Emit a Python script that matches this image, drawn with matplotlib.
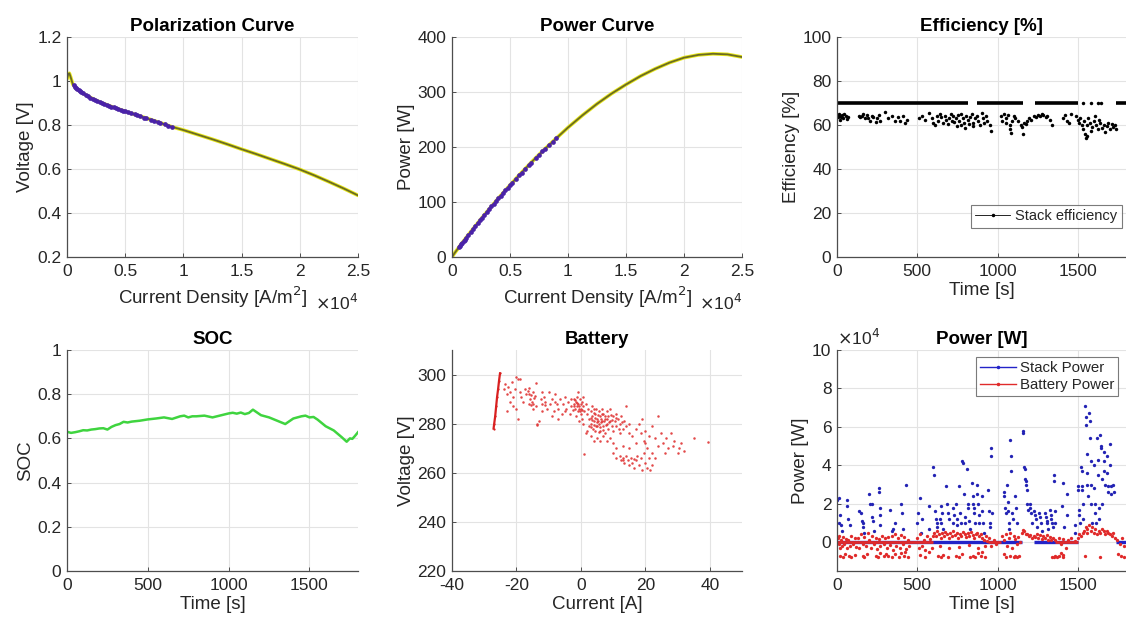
import matplotlib
matplotlib.use("Agg")
import matplotlib.pyplot as plt
from matplotlib.lines import Line2D
import numpy as np

plt.rcParams['font.family'] = ['Liberation Sans', 'DejaVu Sans']

# ---------------- data ----------------
# Polarization / power curves (current density in 1e4 A/m^2)
J_curve = [0, 0.01, 0.02, 0.03, 0.05, 0.075, 0.1, 0.15, 0.2, 0.25, 0.3, 0.4, 0.5, 0.6,
           0.7, 0.8, 0.9, 1.0, 1.125, 1.25, 1.375, 1.5, 1.625, 1.75, 1.875, 2.0, 2.125,
           2.25, 2.375, 2.5]
V_curve = [1.01, 1.03, 1.035, 1.02, 0.985, 0.968, 0.958, 0.94, 0.925, 0.912, 0.9, 0.88, 0.862,
           0.845, 0.828, 0.81, 0.792, 0.777, 0.756, 0.735, 0.713, 0.69, 0.668, 0.645, 0.622,
           0.598, 0.571, 0.542, 0.512, 0.48]
P_curve = [0, 3.1, 6.3, 9.3, 14.9, 22, 29, 42.7, 56, 69, 81.8, 106.7, 130.6, 153.6,
           175.6, 196.3, 216, 235.4, 257.7, 278.4, 297, 313.6, 328.9, 342, 353.4, 362.4,
           367.5, 369.5, 368.4, 363.6]

# Stack operating points
J_op = [0.06, 0.07, 0.08, 0.09, 0.1, 0.11, 0.12, 0.14, 0.16, 0.18, 0.2, 0.22, 0.24, 0.26, 0.28,
        0.3, 0.32, 0.34, 0.36, 0.38, 0.4, 0.42, 0.44, 0.46, 0.48, 0.5, 0.52, 0.55, 0.58,
        0.6, 0.63, 0.66, 0.68, 0.72, 0.75, 0.78, 0.8, 0.84, 0.87, 0.9]
V_op = [0.98, 0.975, 0.97, 0.965, 0.958, 0.954, 0.95, 0.944, 0.937, 0.931, 0.925, 0.92, 0.915,
        0.91, 0.905, 0.9, 0.896, 0.892, 0.888, 0.884, 0.88, 0.876, 0.873, 0.869, 0.865,
        0.862, 0.858, 0.853, 0.848, 0.845, 0.84, 0.833, 0.831, 0.824, 0.818, 0.813, 0.81,
        0.803, 0.797, 0.792]
P_op = [17.8, 20.7, 23.5, 26.3, 29, 31.8, 34.5, 40, 45.4, 50.8, 56, 61.3, 66.5, 71.7, 76.8,
        81.8, 86.9, 91.9, 96.9, 101.8, 106.7, 111.5, 116.3, 121.1, 125.8, 130.6, 135.2,
        142.1, 149, 153.6, 160.3, 166.5, 170.9, 179.9, 186, 192, 196.3, 204.4, 209.9, 216]

# Efficiency (time [s], efficiency [%])
eff_high_segments = [(0, 818), (870, 1160), (1232, 1500), (1740, 1800)]
eff_high_isolated_t = [1531, 1585, 1625, 1647]
eff_high_value = 70
eff_low = [
    (5, 64.5), (8, 63.5), (12, 65), (15, 64), (20, 62.5), (25, 63.8), (30, 64.6), (40, 63),
    (45, 65), (55, 64), (62, 62.8), (70, 63.5),
    (135, 64), (145, 63.5), (155, 64.2), (165, 65), (175, 63), (185, 64.5), (195, 63),
    (205, 62), (215, 64), (225, 63.5), (240, 61.5), (250, 63), (260, 64.5), (268, 62),
    (300, 66), (320, 63), (340, 64), (360, 62), (380, 63.5), (395, 62), (410, 64), (425, 61),
    (435, 62.5),
    (510, 63), (530, 64), (550, 62.5), (570, 65.5), (590, 63), (600, 61), (610, 60),
    (620, 64), (630, 62), (640, 65), (650, 63.5), (660, 61), (670, 64), (680, 62.5),
    (690, 60.5), (700, 63), (710, 65), (715, 62), (725, 64), (730, 61.5), (740, 63),
    (745, 59.5), (755, 64.5), (760, 62), (770, 60), (775, 65), (785, 63), (790, 61),
    (800, 58.5), (805, 64), (815, 62.5), (820, 60.5), (830, 63.5), (840, 65), (845, 61),
    (850, 59.5), (860, 63), (870, 64), (880, 62), (890, 60), (900, 65.5), (910, 63),
    (915, 61), (925, 64), (935, 62), (950, 60), (960, 57.5),
    (1020, 64), (1030, 62), (1040, 65), (1050, 63), (1055, 61), (1065, 64.5), (1075, 60),
    (1080, 58), (1085, 56.5), (1090, 62), (1100, 64), (1110, 63), (1130, 62), (1145, 60),
    (1155, 59), (1160, 56), (1165, 61), (1175, 60.5),
    (1185, 62), (1195, 63), (1210, 62.5), (1225, 64), (1240, 63.5), (1255, 64.5),
    (1265, 64), (1275, 65), (1285, 64.5), (1300, 63.5), (1310, 64), (1325, 62.5), (1340, 60),
    (1405, 63), (1420, 64.5), (1430, 62), (1445, 61), (1460, 65),
    (1490, 64), (1500, 62.5), (1505, 61), (1515, 63), (1525, 60), (1530, 58), (1540, 62),
    (1545, 56), (1550, 54), (1555, 55), (1560, 60), (1565, 63), (1575, 61), (1580, 57.5),
    (1590, 59), (1600, 62), (1605, 64), (1615, 60), (1625, 58), (1630, 62.5), (1640, 61),
    (1650, 58.5), (1660, 60), (1670, 57), (1680, 59.5), (1690, 61), (1700, 58),
    (1710, 60.5), (1720, 59), (1730, 60), (1740, 58)]

# SOC
soc_t = [0, 25, 50, 75, 100, 125, 150, 175, 200, 225, 250, 275, 300, 325, 350, 375, 400, 450,
         500, 550, 600, 650, 700, 725, 750, 775, 800, 850, 900, 950, 1000, 1025, 1050, 1075,
         1100, 1125, 1150, 1200, 1250, 1300, 1350, 1400, 1450, 1475, 1500, 1525, 1550, 1575,
         1600, 1650, 1700, 1730, 1750, 1765, 1780, 1800]
soc_v = [0.63, 0.625, 0.628, 0.632, 0.637, 0.636, 0.64, 0.642, 0.645, 0.646, 0.64, 0.652, 0.66,
         0.665, 0.675, 0.672, 0.676, 0.68, 0.686, 0.69, 0.695, 0.688, 0.70, 0.703, 0.695,
         0.70, 0.70, 0.703, 0.695, 0.704, 0.713, 0.716, 0.712, 0.717, 0.71, 0.715, 0.73,
         0.705, 0.695, 0.68, 0.665, 0.69, 0.70, 0.703, 0.695, 0.697, 0.685, 0.67, 0.655,
         0.636, 0.605, 0.585, 0.60, 0.598, 0.61, 0.628]

# Battery (current [A], voltage [V])
bat_line_I = [-27.1, -26.9, -26.6, -26.3, -26.0, -25.7, -25.4, -25.1]
bat_line_V = [278, 280, 283, 287, 291, 294, 297.5, 300.5]
bat_pts = [
    (-24, 294), (-23.5, 296), (-23, 292), (-22.5, 295), (-22, 293), (-21.5, 297), (-21, 291),
    (-20.5, 294), (-20, 299), (-19.5, 298), (-19, 293), (-22, 289), (-21, 287), (-20, 286),
    (-23, 285), (-19.5, 282), (-18.5, 291), (-18, 289), (-17.5, 294),
    (-17, 292), (-16.5, 293.5), (-16, 292), (-15.8, 290), (-15.5, 291.5), (-15.2, 289),
    (-15, 293), (-14.8, 288), (-14.5, 290.5), (-14, 296.5), (-16, 288), (-15, 286), (-14, 287),
    (-13.5, 279.5), (-13, 281), (-16.2, 294.5), (-15.6, 287.5), (-14.2, 291.2),
    (-12.5, 290), (-12, 288), (-11.5, 291), (-11, 289), (-10.5, 286), (-10, 293), (-9.5, 288),
    (-9, 290), (-8.5, 285), (-8, 292), (-7.5, 288), (-7, 286), (-6.5, 290), (-6, 284),
    (-5.5, 288), (-5, 291), (-4.5, 286), (-4, 289), (-3.5, 284), (-3, 287), (-12, 285),
    (-9, 283), (-7, 282), (-11, 287.5), (-8, 289), (-5, 285), (-3, 290),
    (-2, 290), (-2, 288), (-1.8, 286), (-1.5, 289), (-1.3, 287), (-1, 293), (-1, 285),
    (-0.8, 288), (-0.5, 287), (-0.3, 290), (0, 286), (0, 284), (0.2, 289), (0.3, 282),
    (0.5, 287), (0.8, 291), (1, 285), (-1.5, 283), (-0.5, 281), (0.5, 280), (-2.5, 285.5),
    (1.5, 288), (-1.2, 291), (0.1, 288), (-0.2, 285), (-1.8, 289.5), (-0.6, 286),
    (-2.2, 287), (0.4, 285.5), (-1.1, 288.5),
    (2, 284), (2.5, 282), (3, 285), (3, 280), (3.5, 283), (3.8, 278), (4, 286), (4, 281),
    (4.5, 284), (4.5, 277), (5, 282), (5, 279), (5.5, 285), (5.5, 280), (6, 283), (6, 277),
    (6.5, 281), (6.5, 286), (7, 279), (7, 284), (7.5, 282), (7.5, 276), (8, 285), (8, 280),
    (8.5, 283), (8.5, 278), (9, 281), (9, 286), (9.5, 279), (10, 283), (10, 277),
    (10.5, 281), (11, 284), (11, 279), (11.5, 282), (12, 280), (12, 276), (12.5, 283),
    (13, 278), (13.5, 281), (14, 279), (14, 287), (15, 280), (15, 276), (3, 275), (4, 273),
    (5, 274), (6, 273), (7, 275), (8, 273), (9, 274), (10, 272), (2, 277), (1.5, 276),
    (3.2, 282.5), (4.2, 279.5), (5.2, 283.5), (6.2, 280.5), (7.2, 281), (8.2, 282),
    (9.2, 283.5), (4.8, 286), (5.8, 278.5), (6.8, 277.5), (3.6, 287), (2.6, 279),
    (3.4, 281.5), (4.4, 282.5), (5.4, 281), (6.4, 284), (7.4, 283), (4.1, 284.5),
    (5.1, 280.5), (6.1, 281.8), (3.1, 278.5), (4.6, 279), (5.6, 276.5), (7.8, 279.5),
    (8.8, 280.5), (9.8, 281.5), (10.8, 282.5), (11.8, 278), (12.8, 280.5), (2.3, 286),
    (13, 265), (16.5, 265.5), (18.5, 266), (19.5, 268),
    (10, 268), (11, 266), (12, 267), (12.5, 265), (13, 266), (13.5, 264), (14, 267),
    (14.5, 265), (15, 263), (15.5, 266), (16, 264), (16.5, 262), (17, 265), (17.5, 267),
    (18, 263), (19, 261), (20, 264), (20.5, 262), (21, 266), (21.5, 261), (22, 263), (11, 270),
    (13, 271), (15, 270), (17, 272),
    (16, 275), (17, 278), (18, 280), (18.5, 276), (19, 282), (19.5, 273), (20, 277),
    (20.5, 270), (21, 275), (22, 279), (22, 268), (23, 274), (24, 271), (24, 283), (25, 276),
    (25.5, 272), (26, 268), (26.5, 274), (27, 270), (28, 276), (28.5, 271), (29, 273),
    (30, 268), (30.5, 270), (31, 272), (32, 269), (20, 272), (23, 266),
    (39.5, 272.5), (35, 274), (1, 267.5), (-13.5, 280), (-19, 298), (-12, 293)]

# Power (time [s], power [x1e4 W])
stack_zero_segments = [(0, 1150), (1230, 1500), (1740, 1800)]
stack_pts = [
    (0, 2.2), (10, 2.3), (15, 1.0), (20, 1.4), (25, 0.9), (30, 0.6),
    (60, 2.2), (65, 1.9), (70, 1.2), (80, 0.9),
    (140, 1.6), (150, 1.5), (155, 1.1), (160, 1.0), (165, 0.8), (170, 0.5),
    (200, 2.5), (205, 2.0), (215, 2.0), (220, 1.3), (225, 1.1), (230, 0.6),
    (260, 2.8), (262, 2.6), (265, 1.8), (268, 1.4), (270, 0.9),
    (330, 1.7), (340, 0.6), (350, 0.7), (360, 1.0),
    (400, 2.0), (405, 1.5), (410, 0.7), (430, 3.0),
    (500, 1.0), (505, 1.5), (520, 2.3), (525, 0.5), (530, 1.2),
    (570, 1.9), (575, 0.7),
    (600, 3.9), (602, 3.5), (610, 1.6), (615, 1.2), (620, 1.0), (625, 0.8),
    (640, 1.2), (645, 1.9), (650, 1.0), (655, 1.5), (660, 0.7),
    (680, 2.9), (685, 2.0), (690, 1.5), (695, 1.2),
    (720, 1.8), (725, 1.0), (730, 1.4),
    (740, 2.0), (745, 1.2), (750, 0.9),
    (760, 2.9), (765, 1.5), (770, 1.0),
    (780, 4.2), (785, 4.1), (790, 2.5), (795, 1.3), (800, 1.0),
    (810, 3.8), (815, 2.0), (818, 1.8), (822, 1.1), (826, 0.7),
    (840, 3.1), (845, 2.4), (848, 2.0), (852, 1.8), (856, 1.5), (860, 1.0),
    (870, 3.0), (875, 2.5), (878, 2.0), (882, 1.4), (886, 1.0),
    (900, 2.4), (905, 1.6), (910, 1.0), (915, 0.5),
    (940, 2.7), (945, 1.6), (950, 1.0), (955, 0.8),
    (960, 4.9), (962, 4.5), (966, 1.5),
    (1040, 2.4), (1043, 2.6), (1046, 1.8), (1050, 1.5),
    (1060, 3.0), (1063, 2.1), (1066, 1.6), (1069, 1.0), (1072, 0.7),
    (1080, 5.3), (1083, 4.5), (1086, 3.7), (1090, 1.5), (1095, 1.2),
    (1110, 2.4), (1115, 1.8), (1120, 1.0),
    (1160, 5.8), (1161, 5.7), (1165, 3.9), (1168, 3.8), (1172, 3.3), (1175, 3.2),
    (1180, 3.0), (1183, 2.7), (1186, 2.0), (1190, 1.7),
    (1200, 2.0), (1205, 1.8), (1210, 1.5), (1215, 1.0),
    (1230, 1.6), (1235, 1.4), (1240, 1.2), (1245, 0.8),
    (1260, 1.5), (1265, 1.3), (1270, 1.0), (1275, 0.6),
    (1295, 1.5), (1300, 1.3), (1305, 1.1), (1310, 1.0), (1315, 0.7),
    (1325, 1.7), (1330, 1.4), (1335, 1.2), (1340, 1.0), (1345, 0.8),
    (1350, 3.5), (1353, 3.2), (1356, 1.6), (1360, 1.0),
    (1400, 1.9), (1410, 3.1), (1415, 0.8),
    (1430, 2.5), (1435, 1.4),
    (1480, 0.5), (1485, 0.9),
    (1500, 2.9), (1503, 2.7), (1506, 1.7), (1509, 1.4), (1512, 1.0),
    (1520, 3.9), (1523, 3.7), (1526, 2.9), (1529, 2.7), (1532, 2.0), (1535, 1.2),
    (1545, 7.1), (1548, 6.5), (1551, 6.1), (1554, 4.6), (1557, 3.6), (1560, 3.0), (1563, 2.4),
    (1570, 6.7), (1573, 6.3), (1576, 5.4), (1579, 4.2), (1582, 3.0), (1585, 2.0), (1588, 1.0),
    (1600, 4.0), (1603, 2.8), (1606, 2.0), (1609, 1.5), (1612, 1.0),
    (1620, 5.4), (1623, 4.3), (1626, 3.5), (1629, 1.8), (1632, 1.2),
    (1640, 5.6), (1643, 5.0), (1646, 4.9), (1649, 3.3), (1652, 2.0),
    (1660, 4.7), (1663, 4.2), (1666, 3.7), (1669, 3.0),
    (1680, 4.5), (1683, 3.6), (1686, 2.9), (1689, 2.6),
    (1700, 5.1), (1703, 4.0), (1706, 2.9), (1709, 2.5),
    (1720, 3.0), (1724, 2.6)]
battery_pts = [
    (5, 0.2), (10, -0.1), (15, 0.3), (20, -0.3), (25, 0.1), (30, -0.2), (40, 0.25), (45, -0.1),
    (55, 0.15), (60, -0.3), (70, 0.1), (80, -0.2), (90, 0.3), (100, -0.1), (110, 0.2),
    (120, -0.25),
    (20, -0.7), (35, -0.75), (50, -0.6), (75, -0.7), (90, -0.75), (115, -0.65),
    (130, 0.2), (140, -0.3), (150, 0.4), (160, -0.1), (170, 0.25), (180, -0.2), (190, 0.5),
    (200, 0.1), (210, -0.3), (220, 0.3), (230, -0.1), (240, 0.2), (250, -0.35), (260, 0.15),
    (270, -0.2), (280, 0.3), (290, -0.1), (300, 0.2),
    (160, -0.7), (170, -0.75), (185, -0.6), (240, -0.7), (255, -0.75), (270, -0.55),
    (290, -0.7), (305, -0.6),
    (310, -0.3), (320, 0.25), (330, -0.15), (340, 0.3), (350, -0.4), (360, 0.4), (370, -0.2),
    (380, 0.2), (390, -0.3), (400, 0.35), (410, -0.1), (420, 0.25), (430, -0.35), (440, 0.1),
    (450, -0.2),
    (320, -0.7), (345, -0.75), (360, -0.6), (385, -0.75), (400, -0.55), (415, -0.7),
    (425, -0.5), (440, -0.75),
    (500, 0.2), (510, -0.3), (520, 0.4), (530, -0.2), (540, 0.1), (550, -0.4), (560, 0.3),
    (570, -0.5), (580, 0.15), (590, -0.3), (600, 0.3),
    (520, -0.65), (545, -0.75),
    (605, 0.5), (615, 0.3), (625, 0.6), (635, 0.4), (645, 0.2), (655, 0.5), (665, 0.3),
    (675, 0.55), (685, 0.4), (695, 0.2), (705, 0.5), (715, 0.3), (725, 0.6), (735, 0.35),
    (745, 0.5), (755, 0.2), (765, 0.45), (775, 0.3), (785, 0.55), (795, 0.4), (805, 0.25),
    (815, 0.5), (825, 0.3), (835, 0.55), (845, 0.35), (855, 0.2), (865, 0.45), (875, 0.5),
    (885, 0.3), (895, 0.4), (905, 0.2), (915, 0.1), (925, 0.3), (935, 0.05),
    (640, -0.2), (700, -0.3), (760, -0.25), (820, -0.15), (880, -0.3), (920, -0.2),
    (630, -0.7), (645, -0.75), (660, -0.65), (690, -0.75), (740, -0.7), (760, -0.75),
    (780, -0.6), (830, -0.75), (845, -0.7), (860, -0.75), (880, -0.55), (895, -0.7),
    (905, -0.5), (920, -0.75),
    (945, 0.2), (960, -0.2), (975, 0.1), (990, -0.1),
    (1030, 0.3), (1040, 0.1), (1050, 0.4), (1060, -0.2), (1070, 0.2), (1080, 0.5),
    (1090, -0.3), (1100, 0.3), (1110, 0.15), (1120, -0.1), (1130, 0.25), (1140, 0.0),
    (1040, -0.6), (1055, -0.75), (1075, -0.7), (1100, -0.75), (1110, -0.7), (1120, -0.75),
    (1135, -0.72),
    (1150, 0.5), (1158, 0.65), (1165, 0.6), (1175, 0.45), (1185, 0.4), (1195, 0.3),
    (1205, 0.35), (1215, 0.2), (1225, 0.3), (1235, 0.25), (1245, 0.4), (1255, 0.2),
    (1265, 0.35), (1275, 0.15), (1285, 0.3), (1295, 0.2), (1305, 0.35), (1315, 0.1),
    (1325, 0.25), (1335, 0.1), (1345, 0.2),
    (1360, 0.1), (1380, 0.2), (1395, -0.1), (1410, 0.15), (1425, -0.3), (1440, 0.1),
    (1460, 0.2), (1480, 0.05),
    (1340, -0.75), (1350, -0.75), (1360, -0.72), (1370, -0.75), (1380, -0.7), (1395, -0.55),
    (1405, -0.65), (1410, -0.75),
    (1500, 0.2), (1510, 0.4), (1520, 0.3), (1530, 0.5), (1540, 0.6), (1550, 0.8), (1555, 0.5),
    (1560, 0.7), (1570, 0.9), (1580, 0.6), (1590, 0.8), (1600, 0.5), (1610, 0.7), (1620, 0.4),
    (1630, 0.6), (1640, 0.5), (1650, 0.7), (1660, 0.6), (1670, 0.4), (1680, 0.6), (1690, 0.5),
    (1700, 0.4), (1710, 0.3), (1720, 0.5), (1730, 0.2),
    (1545, -0.7), (1640, -0.75),
    (1745, 0.1), (1760, -0.1), (1775, 0.2), (1790, -0.2), (1750, -0.6), (1770, -0.7),
    (1790, -0.75)]
battery_zero_segments = [(0, 600), (940, 1020), (1360, 1500)]

# ---------------- style ----------------
W, H = 1126, 625
fig = plt.figure(figsize=(W / 100, H / 100), dpi=100)

TICK_C = '#262626'
SPINE_C = '#4d4d4d'
GRID_C = '#e3e3e3'
FS_TICK = 12.5
FS_LAB = 13.5
FS_TITLE = 13.5


def make_ax(l, t, r, b):
    ax = fig.add_axes([l / W, 1 - b / H, (r - l) / W, (b - t) / H])
    for s in ('top', 'right'):
        ax.spines[s].set_visible(False)
    for s in ('left', 'bottom'):
        ax.spines[s].set_color(SPINE_C)
        ax.spines[s].set_linewidth(0.9)
    ax.tick_params(direction='in', length=3, width=0.7, colors=SPINE_C,
                   labelcolor=TICK_C, labelsize=FS_TICK)
    ax.tick_params(axis='x', pad=5)
    ax.tick_params(axis='y', pad=4)
    ax.grid(True, color=GRID_C, linewidth=0.8)
    ax.set_axisbelow(True)
    return ax


def title(ax, s):
    ax.set_title(s, fontsize=FS_TITLE, fontweight='bold', pad=4)


COL = [(67, 358), (452, 742), (837, 1126)]
ROW = [(37, 257), (350, 571)]

# ---- Polarization curve ----
ax1 = make_ax(COL[0][0], ROW[0][0], COL[0][1], ROW[0][1])
ax1.plot(J_curve, V_curve, color='#e6e619', lw=2.6, solid_capstyle='round')
ax1.plot(J_curve, V_curve, color='#6b6b22', lw=1.3)
ax1.plot(J_op, V_op, 'o', color='#4a22a8', ms=3.4, mec='none')
ax1.set_xlim(0, 2.5)
ax1.set_ylim(0.2, 1.2)
ax1.set_xticks([0, 0.5, 1, 1.5, 2, 2.5])
ax1.set_xticklabels(['0', '0.5', '1', '1.5', '2', '2.5'])
ax1.set_yticks([0.2, 0.4, 0.6, 0.8, 1.0, 1.2])
ax1.set_yticklabels(['0.2', '0.4', '0.6', '0.8', '1', '1.2'])
ax1.set_ylabel('Voltage [V]', fontsize=FS_LAB, color=TICK_C, labelpad=2)
ax1.set_xlabel('Current Density [A/m$^2$]', fontsize=FS_LAB, color=TICK_C, labelpad=4)
title(ax1, 'Polarization Curve')
ax1.text(1.0, -0.165, r'$\times$10$^{4}$', transform=ax1.transAxes, ha='right', va='top',
         fontsize=FS_TICK, color=TICK_C)

# ---- Power curve ----
ax2 = make_ax(COL[1][0], ROW[0][0], COL[1][1], ROW[0][1])
ax2.plot(J_curve, P_curve, color='#e6e619', lw=2.6, solid_capstyle='round')
ax2.plot(J_curve, P_curve, color='#6b6b22', lw=1.3)
ax2.plot(J_op, P_op, 'o', color='#4a22a8', ms=3.4, mec='none')
ax2.set_xlim(0, 2.5)
ax2.set_ylim(0, 400)
ax2.set_xticks([0, 0.5, 1, 1.5, 2, 2.5])
ax2.set_xticklabels(['0', '0.5', '1', '1.5', '2', '2.5'])
ax2.set_yticks([0, 100, 200, 300, 400])
ax2.set_ylabel('Power [W]', fontsize=FS_LAB, color=TICK_C, labelpad=2)
ax2.set_xlabel('Current Density [A/m$^2$]', fontsize=FS_LAB, color=TICK_C, labelpad=4)
title(ax2, 'Power Curve')
ax2.text(1.0, -0.165, r'$\times$10$^{4}$', transform=ax2.transAxes, ha='right', va='top',
         fontsize=FS_TICK, color=TICK_C)

# ---- Efficiency ----
ax3 = make_ax(COL[2][0], ROW[0][0], COL[2][1], ROW[0][1])
ax3.hlines([eff_high_value] * len(eff_high_segments),
           [s[0] for s in eff_high_segments], [s[1] for s in eff_high_segments],
           color='black', lw=2.6)
ax3.plot(eff_high_isolated_t, [eff_high_value] * len(eff_high_isolated_t), 'o',
         color='black', ms=2.5, mec='none')
ax3.plot([p[0] for p in eff_low], [p[1] for p in eff_low], 'o', color='black', ms=2.5,
         mec='none')
ax3.set_xlim(0, 1800)
ax3.set_ylim(0, 100)
ax3.set_xticks([0, 500, 1000, 1500])
ax3.set_yticks([0, 20, 40, 60, 80, 100])
ax3.set_ylabel('Efficiency [%]', fontsize=FS_LAB, color=TICK_C, labelpad=2)
ax3.set_xlabel('Time [s]', fontsize=FS_LAB, color=TICK_C, labelpad=2)
title(ax3, 'Efficiency [%]')
h_eff = Line2D([], [], color='black', lw=0.6, marker='.', ms=3)
leg3 = fig.legend([h_eff], ['Stack efficiency'], loc='upper left',
                  bbox_to_anchor=(971 / W, 1 - 205 / H), fontsize=10.5,
                  frameon=True, fancybox=False, edgecolor='#5a5a5a', handlelength=2.4,
                  handletextpad=0.35, borderpad=0.3, borderaxespad=0)
leg3.get_frame().set_linewidth(0.8)
for t in leg3.get_texts():
    t.set_color(TICK_C)

# ---- SOC ----
ax4 = make_ax(COL[0][0], ROW[1][0], COL[0][1], ROW[1][1])
ax4.plot(soc_t, soc_v, color='#3fd43f', lw=1.8)
ax4.set_xlim(0, 1800)
ax4.set_ylim(0, 1)
ax4.set_xticks([0, 500, 1000, 1500])
ax4.set_yticks([0, 0.2, 0.4, 0.6, 0.8, 1.0])
ax4.set_yticklabels(['0', '0.2', '0.4', '0.6', '0.8', '1'])
ax4.set_ylabel('SOC', fontsize=FS_LAB, color=TICK_C, labelpad=2)
ax4.set_xlabel('Time [s]', fontsize=FS_LAB, color=TICK_C, labelpad=2)
title(ax4, 'SOC')

# ---- Battery ----
ax5 = make_ax(COL[1][0], ROW[1][0], COL[1][1], ROW[1][1])
ax5.plot(bat_line_I, bat_line_V, color='#d92020', lw=1.6, marker='o', ms=1.6, mec='none')
ax5.plot([p[0] for p in bat_pts], [p[1] for p in bat_pts], 'o', color='#e03535', ms=1.8,
         mec='none', alpha=0.9)
ax5.set_xlim(-40, 50)
ax5.set_ylim(220, 310)
ax5.set_xticks([-40, -20, 0, 20, 40])
ax5.set_xticklabels(['-40', '-20', '0', '20', '40'])
ax5.set_yticks([220, 240, 260, 280, 300])
ax5.set_ylabel('Voltage [V]', fontsize=FS_LAB, color=TICK_C, labelpad=2)
ax5.set_xlabel('Current [A]', fontsize=FS_LAB, color=TICK_C, labelpad=2)
title(ax5, 'Battery')

# ---- Power ----
ax6 = make_ax(COL[2][0], ROW[1][0], COL[2][1], ROW[1][1])
ax6.hlines([0] * len(stack_zero_segments), [s[0] for s in stack_zero_segments],
           [s[1] for s in stack_zero_segments], color='#2323c8', lw=2.4)
ax6.plot([p[0] for p in stack_pts], [p[1] for p in stack_pts], 'o', color='#2323b4', ms=2.4,
         mec='none')
ax6.hlines([0] * len(battery_zero_segments), [s[0] for s in battery_zero_segments],
           [s[1] for s in battery_zero_segments], color='#e02a2a', lw=2.0)
ax6.plot([p[0] for p in battery_pts], [p[1] for p in battery_pts], 'o', color='#e02a2a',
         ms=2.4, mec='none')
ax6.set_xlim(0, 1800)
ax6.set_ylim(-1.5, 10)
ax6.set_xticks([0, 500, 1000, 1500])
ax6.set_yticks([0, 2, 4, 6, 8, 10])
ax6.set_ylabel('Power [W]', fontsize=FS_LAB, color=TICK_C, labelpad=2)
ax6.set_xlabel('Time [s]', fontsize=FS_LAB, color=TICK_C, labelpad=2)
title(ax6, 'Power [W]')
ax6.text(0.0, 1.01, r'$\times$10$^{4}$', transform=ax6.transAxes, ha='left', va='bottom',
         fontsize=FS_TICK, color=TICK_C)
h_sp = Line2D([], [], color='#2323c8', lw=1.0, marker='.', ms=3)
h_bp = Line2D([], [], color='#e02a2a', lw=1.0, marker='.', ms=3)
leg6 = fig.legend([h_sp, h_bp], ['Stack Power', 'Battery Power'], loc='upper left',
                  bbox_to_anchor=(976 / W, 1 - 357 / H), fontsize=10.8,
                  frameon=True, fancybox=False, edgecolor='#5a5a5a', handlelength=2.4,
                  handletextpad=0.3, borderpad=0.25, borderaxespad=0, labelspacing=0.2)
leg6.get_frame().set_linewidth(0.8)
for t in leg6.get_texts():
    t.set_color(TICK_C)

fig.savefig('out.png', dpi=100, facecolor='white')
